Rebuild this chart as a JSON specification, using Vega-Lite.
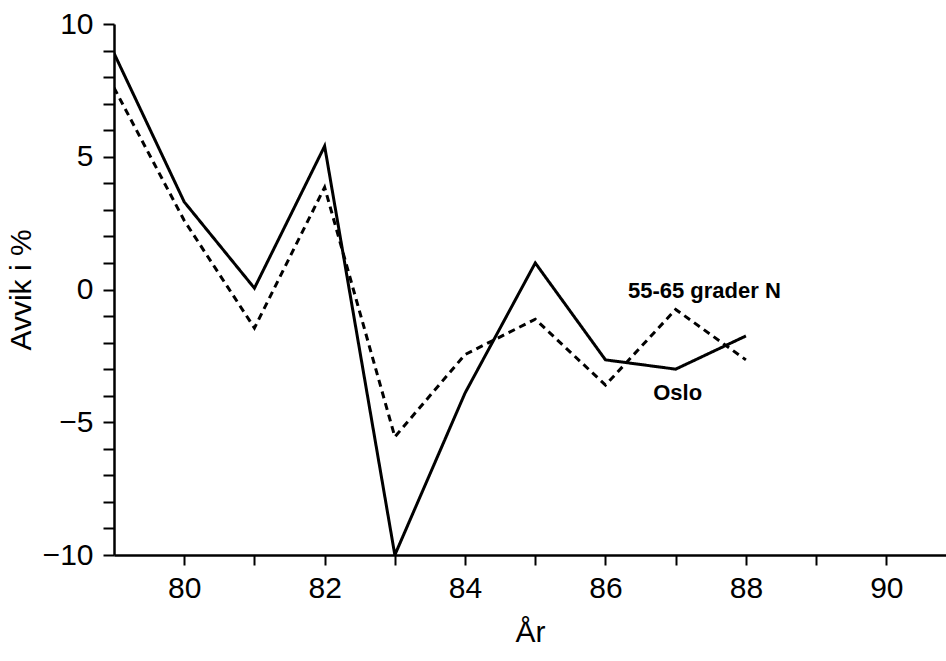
{
  "$schema": "https://vega.github.io/schema/vega-lite/v6.json",
  "width": 832,
  "height": 531,
  "autosize": {"type": "none"},
  "padding": {"left": 114, "top": 24, "right": 0, "bottom": 106},
  "background": "white",
  "config": {
    "view": {"stroke": null},
    "font": "Liberation Sans, sans-serif"
  },
  "datasets": {
    "series": [
      {"year": 79, "value": 8.9, "series": "Oslo"},
      {"year": 80, "value": 3.3, "series": "Oslo"},
      {"year": 81, "value": 0.05, "series": "Oslo"},
      {"year": 82, "value": 5.4, "series": "Oslo"},
      {"year": 83, "value": -10.0, "series": "Oslo"},
      {"year": 84, "value": -3.9, "series": "Oslo"},
      {"year": 85, "value": 1.0, "series": "Oslo"},
      {"year": 86, "value": -2.65, "series": "Oslo"},
      {"year": 87, "value": -3.0, "series": "Oslo"},
      {"year": 88, "value": -1.75, "series": "Oslo"},
      {"year": 79, "value": 7.6, "series": "55-65 grader N"},
      {"year": 80, "value": 2.6, "series": "55-65 grader N"},
      {"year": 81, "value": -1.45, "series": "55-65 grader N"},
      {"year": 82, "value": 3.85, "series": "55-65 grader N"},
      {"year": 83, "value": -5.55, "series": "55-65 grader N"},
      {"year": 84, "value": -2.45, "series": "55-65 grader N"},
      {"year": 85, "value": -1.12, "series": "55-65 grader N"},
      {"year": 86, "value": -3.6, "series": "55-65 grader N"},
      {"year": 87, "value": -0.75, "series": "55-65 grader N"},
      {"year": 88, "value": -2.65, "series": "55-65 grader N"}
    ],
    "labels": [
      {"year": 86.32, "value": -0.05, "text": "55-65 grader N"},
      {"year": 86.68, "value": -3.9, "text": "Oslo"}
    ]
  },
  "encoding": {
    "x": {
      "field": "year", "type": "quantitative",
      "scale": {"domain": [79, 90.85], "nice": false, "zero": false},
      "axis": {
        "title": "År", "titleFontSize": 30, "titleFontWeight": "normal", "titlePadding": 14,
        "values": [80, 81, 82, 83, 84, 85, 86, 87, 88, 89, 90],
        "format": "d",
        "labelExpr": "datum.value % 2 == 0 ? datum.label : ''",
        "labelOverlap": false,
        "labelFontSize": 30, "labelPadding": 8, "labelColor": "black",
        "tickColor": "black", "tickSize": 10, "tickWidth": 2,
        "domainColor": "black", "domainWidth": 2.5, "grid": false, "titleColor": "black"
      }
    },
    "y": {
      "field": "value", "type": "quantitative",
      "scale": {"domain": [-10, 10], "nice": false},
      "axis": {
        "title": "Avvik i %", "titleFontSize": 30, "titleFontWeight": "normal", "titlePadding": 6,
        "values": [-10, -9, -8, -7, -6, -5, -4, -3, -2, -1, 0, 1, 2, 3, 4, 5, 6, 7, 8, 9, 10],
        "format": "d",
        "labelExpr": "datum.value % 5 == 0 ? datum.label : ''",
        "labelOverlap": false,
        "labelFontSize": 30, "labelPadding": 10, "labelColor": "black",
        "tickColor": "black", "tickSize": 11, "tickWidth": 2,
        "domainColor": "black", "domainWidth": 2.5, "grid": false, "titleColor": "black"
      }
    }
  },
  "layer": [
    {
      "data": {"name": "series"},
      "mark": {"type": "line", "color": "black", "strokeWidth": 3, "clip": true},
      "encoding": {
        "strokeDash": {
          "field": "series", "type": "nominal",
          "scale": {"domain": ["Oslo", "55-65 grader N"], "range": [[1, 0], [7, 5]]},
          "legend": null
        }
      }
    },
    {
      "data": {"name": "labels"},
      "mark": {"type": "text", "fontWeight": "bold", "fontSize": 22, "align": "left", "baseline": "middle", "color": "black"},
      "encoding": {
        "text": {"field": "text"}
      }
    }
  ]
}
